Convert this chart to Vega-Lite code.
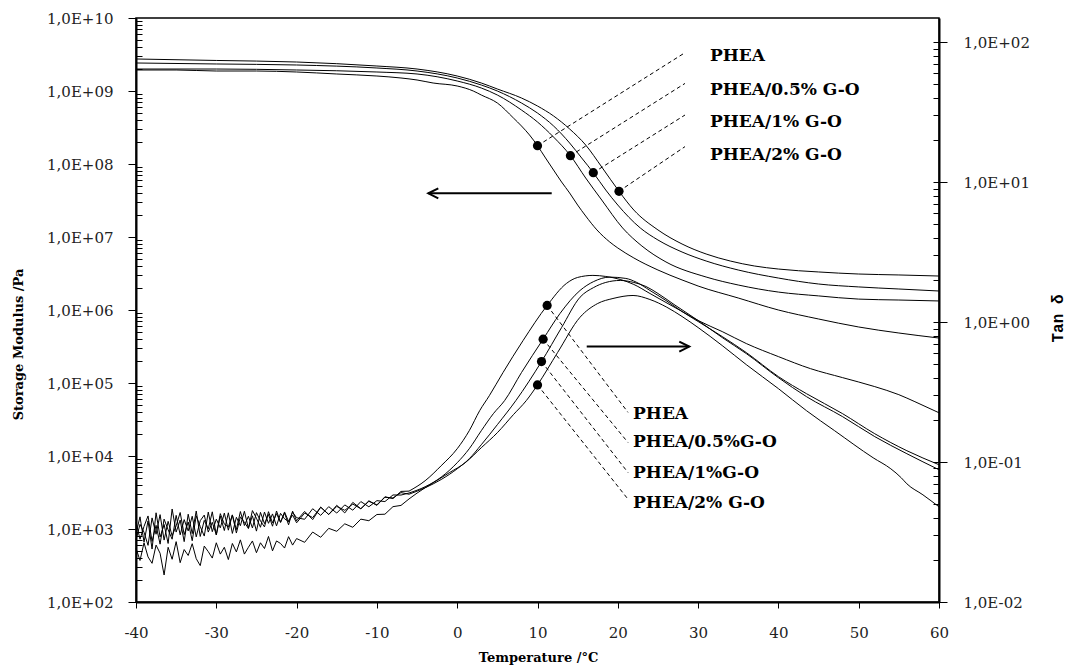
{
"$schema": "https://vega.github.io/schema/vega-lite/v6.json",
"width": 803, "height": 584,
"autosize": {"type": "none"},
"padding": {"left": 136, "top": 18, "right": 133, "bottom": 65},
"background": "white",
"config": {
 "view": {"stroke": "black", "strokeWidth": 1.5},
 "axis": {"grid": false, "ticks": true, "domainColor": "black", "domainWidth": 2, "tickColor": "black", "tickWidth": 1, "tickOpacity": 1, "labelFont": "DejaVu Serif", "labelFontSize": 15, "labelColor": "#222", "titleFont": "DejaVu Serif", "titleFontWeight": "bold", "titleFontSize": 13, "titleColor": "black", "labelOverlap": false, "labelFlush": false}
},
"datasets": {
 "modulus": [
  {"s":"A","T":-40,"v":1.94e9},{"s":"A","T":-35,"v":1.94e9},{"s":"A","T":-30,"v":1.879e9},{"s":"A","T":-25,"v":1.879e9},{"s":"A","T":-20,"v":1.821e9},{"s":"A","T":-15,"v":1.71e9},{"s":"A","T":-10,"v":1.605e9},{"s":"A","T":-7,"v":1.507e9},{"s":"A","T":-5,"v":1.415e9},{"s":"A","T":-3,"v":1.287e9},{"s":"A","T":0,"v":1.171e9},{"s":"A","T":2,"v":1.0e9},{"s":"A","T":3,"v":8.81e8},{"s":"A","T":5,"v":6.85e8},{"s":"A","T":7,"v":4.27e8},{"s":"A","T":8,"v":3.32e8},{"s":"A","T":9,"v":2.5e8},{"s":"A","T":10,"v":1.78e8},{"s":"A","T":11,"v":1.21e8},{"s":"A","T":12,"v":8.27e7},{"s":"A","T":13,"v":5.67e7},{"s":"A","T":14,"v":4.01e7},{"s":"A","T":15,"v":2.74e7},{"s":"A","T":16,"v":1.94e7},{"s":"A","T":17.4,"v":1.25e7},{"s":"A","T":19,"v":8.54e6},{"s":"A","T":20,"v":7.07e6},{"s":"A","T":22,"v":5.16e6},{"s":"A","T":25,"v":3.53e6},{"s":"A","T":28,"v":2.58e6},{"s":"A","T":30,"v":2.13e6},{"s":"A","T":35,"v":1.46e6},{"s":"A","T":40,"v":1.0e6},{"s":"A","T":45,"v":7.53e5},{"s":"A","T":50,"v":5.85e5},{"s":"A","T":55,"v":4.84e5},{"s":"A","T":60,"v":4.13e5},
  {"s":"B","T":-40,"v":2.0e9},{"s":"B","T":-30,"v":2.0e9},{"s":"B","T":-20,"v":1.94e9},{"s":"B","T":-10,"v":1.821e9},{"s":"B","T":-5,"v":1.71e9},{"s":"B","T":0,"v":1.371e9},{"s":"B","T":3,"v":1.099e9},{"s":"B","T":5,"v":8.81e8},{"s":"B","T":8,"v":5.49e8},{"s":"B","T":10,"v":3.76e8},{"s":"B","T":12,"v":2.34e8},{"s":"B","T":14.1,"v":1.30e8},{"s":"B","T":16,"v":6.43e7},{"s":"B","T":18,"v":3.21e7},{"s":"B","T":20.6,"v":1.33e7},{"s":"B","T":23,"v":7.53e6},{"s":"B","T":26,"v":4.55e6},{"s":"B","T":31,"v":2.83e6},{"s":"B","T":35,"v":2.2e6},{"s":"B","T":40,"v":1.76e6},{"s":"B","T":45,"v":1.56e6},{"s":"B","T":50,"v":1.41e6},{"s":"B","T":55,"v":1.37e6},{"s":"B","T":60,"v":1.33e6},
  {"s":"C","T":-40,"v":2.419e9},{"s":"C","T":-30,"v":2.345e9},{"s":"C","T":-20,"v":2.271e9},{"s":"C","T":-10,"v":2.066e9},{"s":"C","T":-5,"v":1.879e9},{"s":"C","T":0,"v":1.507e9},{"s":"C","T":3,"v":1.208e9},{"s":"C","T":5,"v":1.0e9},{"s":"C","T":8,"v":6.85e8},{"s":"C","T":10,"v":4.99e8},{"s":"C","T":12,"v":3.32e8},{"s":"C","T":14,"v":1.94e8},{"s":"C","T":15.5,"v":1.21e8},{"s":"C","T":16.95,"v":7.6e7},{"s":"C","T":18.5,"v":4.4e7},{"s":"C","T":20,"v":2.74e7},{"s":"C","T":22.8,"v":1.33e7},{"s":"C","T":25,"v":9.1e6},{"s":"C","T":28,"v":6.23e6},{"s":"C","T":31,"v":4.69e6},{"s":"C","T":35,"v":3.53e6},{"s":"C","T":40,"v":2.74e6},{"s":"C","T":45,"v":2.27e6},{"s":"C","T":50,"v":2.07e6},{"s":"C","T":55,"v":1.94e6},{"s":"C","T":60,"v":1.82e6},
  {"s":"D","T":-40,"v":2.745e9},{"s":"D","T":-30,"v":2.62e9},{"s":"D","T":-20,"v":2.496e9},{"s":"D","T":-10,"v":2.2e9},{"s":"D","T":-5,"v":2.0e9},{"s":"D","T":0,"v":1.605e9},{"s":"D","T":3,"v":1.287e9},{"s":"D","T":5,"v":1.065e9},{"s":"D","T":8,"v":8.02e8},{"s":"D","T":10,"v":6.23e8},{"s":"D","T":12,"v":4.55e8},{"s":"D","T":14,"v":3.02e8},{"s":"D","T":16,"v":1.82e8},{"s":"D","T":18,"v":9.1e7},{"s":"D","T":20.15,"v":4.23e7},{"s":"D","T":22,"v":2.34e7},{"s":"D","T":25,"v":1.25e7},{"s":"D","T":28,"v":8.02e6},{"s":"D","T":31,"v":5.85e6},{"s":"D","T":34,"v":4.69e6},{"s":"D","T":37,"v":4.01e6},{"s":"D","T":40,"v":3.64e6},{"s":"D","T":45,"v":3.32e6},{"s":"D","T":50,"v":3.11e6},{"s":"D","T":55,"v":3.02e6},{"s":"D","T":60,"v":2.92e6}
 ],
 "modDots": [{"T":10,"v":1.78e8},{"T":14.1,"v":1.30e8},{"T":16.95,"v":7.6e7},{"T":20.15,"v":4.23e7}],
 "modLeaders": [{"T":10,"v":1.78e8,"T2":28.37,"v2":3.35e9},{"T":14.1,"v":1.30e8,"T2":28.37,"v2":1.27e9},{"T":16.95,"v":7.6e7,"T2":28.37,"v2":4.69e8},{"T":20.15,"v":4.23e7,"T2":28.37,"v2":1.73e8}],
 "modLabels": [{"T":31.48,"v":3.01e9,"label":"PHEA"},{"T":31.48,"v":1.03e9,"label":"PHEA/0.5% G-O"},{"T":31.48,"v":3.76e8,"label":"PHEA/1% G-O"},{"T":31.48,"v":1.33e8,"label":"PHEA/2% G-O"}],
 "modArrow": [{"T":-3.6,"T2":11.77,"v":3.97e7}],
 "tand": [
  {"s":"A","T":-40,"v":0.0310},{"s":"A","T":-39.5,"v":0.0406},{"s":"A","T":-39,"v":0.0268},{"s":"A","T":-38.5,"v":0.0380},{"s":"A","T":-38,"v":0.0239},{"s":"A","T":-37.5,"v":0.0434},{"s":"A","T":-37,"v":0.0291},{"s":"A","T":-36.5,"v":0.0358},{"s":"A","T":-36,"v":0.0262},{"s":"A","T":-35.5,"v":0.0462},{"s":"A","T":-35,"v":0.0316},{"s":"A","T":-34.5,"v":0.0385},{"s":"A","T":-34,"v":0.0270},{"s":"A","T":-33.5,"v":0.0424},{"s":"A","T":-33,"v":0.0308},{"s":"A","T":-32.5,"v":0.0447},{"s":"A","T":-32,"v":0.0294},{"s":"A","T":-31.5,"v":0.0383},{"s":"A","T":-31,"v":0.0333},{"s":"A","T":-30.5,"v":0.0441},{"s":"A","T":-30,"v":0.0302},{"s":"A","T":-29.5,"v":0.0411},{"s":"A","T":-29,"v":0.0324},{"s":"A","T":-28.5,"v":0.0434},{"s":"A","T":-28,"v":0.0309},{"s":"A","T":-27.5,"v":0.0403},{"s":"A","T":-27,"v":0.0351},{"s":"A","T":-26.5,"v":0.0445},{"s":"A","T":-26,"v":0.0336},{"s":"A","T":-25.5,"v":0.0413},{"s":"A","T":-25,"v":0.0321},{"s":"A","T":-24.5,"v":0.0437},{"s":"A","T":-24,"v":0.0363},{"s":"A","T":-23.5,"v":0.0422},{"s":"A","T":-23,"v":0.0348},{"s":"A","T":-22.5,"v":0.0447},{"s":"A","T":-22,"v":0.0371},{"s":"A","T":-21.5,"v":0.0432},{"s":"A","T":-21,"v":0.0356},{"s":"A","T":-20.5,"v":0.0446},{"s":"A","T":-20,"v":0.0380},{"s":"A","T":-19,"v":0.0444},{"s":"A","T":-18,"v":0.0388},{"s":"A","T":-17,"v":0.0476},{"s":"A","T":-16,"v":0.0422},{"s":"A","T":-15,"v":0.0491},{"s":"A","T":-14,"v":0.0433},{"s":"A","T":-13,"v":0.0515},{"s":"A","T":-12,"v":0.0464},{"s":"A","T":-11,"v":0.0529},{"s":"A","T":-10,"v":0.0490},{"s":"A","T":-9,"v":0.0565},{"s":"A","T":-8,"v":0.0548},{"s":"A","T":-7,"v":0.0617},{"s":"A","T":-6,"v":0.0620},{"s":"A","T":-4,"v":0.0735},{"s":"A","T":-2,"v":0.0941},{"s":"A","T":0,"v":0.1245},{"s":"A","T":1.5,"v":0.1675},{"s":"A","T":2.8,"v":0.233},{"s":"A","T":4,"v":0.298},{"s":"A","T":5.7,"v":0.4357},{"s":"A","T":8.2,"v":0.738},{"s":"A","T":11.2,"v":1.315},{"s":"A","T":13.6,"v":1.889},{"s":"A","T":15,"v":2.086},{"s":"A","T":16.9,"v":2.157},{"s":"A","T":18.5,"v":2.12},{"s":"A","T":20.3,"v":2.018},{"s":"A","T":22,"v":1.858},{"s":"A","T":24,"v":1.602},{"s":"A","T":26,"v":1.381},{"s":"A","T":28,"v":1.191},{"s":"A","T":30,"v":1.027},{"s":"A","T":33,"v":0.856},{"s":"A","T":36,"v":0.703},{"s":"A","T":40,"v":0.567},{"s":"A","T":44,"v":0.465},{"s":"A","T":48,"v":0.401},{"s":"A","T":52,"v":0.346},{"s":"A","T":55,"v":0.303},{"s":"A","T":57,"v":0.270},{"s":"A","T":60,"v":0.225},
  {"s":"B","T":-40,"v":0.0279},{"s":"B","T":-39.5,"v":0.0359},{"s":"B","T":-39,"v":0.0315},{"s":"B","T":-38.5,"v":0.0254},{"s":"B","T":-38,"v":0.0399},{"s":"B","T":-37.5,"v":0.0305},{"s":"B","T":-37,"v":0.0421},{"s":"B","T":-36.5,"v":0.0277},{"s":"B","T":-36,"v":0.0377},{"s":"B","T":-35.5,"v":0.0297},{"s":"B","T":-35,"v":0.0350},{"s":"B","T":-34.5,"v":0.0436},{"s":"B","T":-34,"v":0.0303},{"s":"B","T":-33.5,"v":0.0373},{"s":"B","T":-33,"v":0.0274},{"s":"B","T":-32.5,"v":0.0413},{"s":"B","T":-32,"v":0.0346},{"s":"B","T":-31.5,"v":0.0296},{"s":"B","T":-31,"v":0.0439},{"s":"B","T":-30.5,"v":0.0318},{"s":"B","T":-30,"v":0.0391},{"s":"B","T":-29.5,"v":0.0339},{"s":"B","T":-29,"v":0.0432},{"s":"B","T":-28.5,"v":0.0326},{"s":"B","T":-28,"v":0.0419},{"s":"B","T":-27.5,"v":0.0311},{"s":"B","T":-27,"v":0.0406},{"s":"B","T":-26.5,"v":0.0371},{"s":"B","T":-26,"v":0.0336},{"s":"B","T":-25.5,"v":0.0450},{"s":"B","T":-25,"v":0.0397},{"s":"B","T":-24.5,"v":0.0342},{"s":"B","T":-24,"v":0.0439},{"s":"B","T":-23.5,"v":0.0365},{"s":"B","T":-23,"v":0.0426},{"s":"B","T":-22.5,"v":0.0350},{"s":"B","T":-22,"v":0.0430},{"s":"B","T":-21.5,"v":0.0393},{"s":"B","T":-21,"v":0.0376},{"s":"B","T":-20.5,"v":0.0438},{"s":"B","T":-20,"v":0.0400},{"s":"B","T":-19,"v":0.0390},{"s":"B","T":-18,"v":0.0464},{"s":"B","T":-17,"v":0.0416},{"s":"B","T":-16,"v":0.0480},{"s":"B","T":-15,"v":0.0432},{"s":"B","T":-14,"v":0.0494},{"s":"B","T":-13,"v":0.0453},{"s":"B","T":-12,"v":0.0522},{"s":"B","T":-11,"v":0.0479},{"s":"B","T":-10,"v":0.0530},{"s":"B","T":-9,"v":0.0522},{"s":"B","T":-8,"v":0.0582},{"s":"B","T":-7,"v":0.0581},{"s":"B","T":-6,"v":0.0601},{"s":"B","T":-4,"v":0.0666},{"s":"B","T":-2,"v":0.078},{"s":"B","T":0,"v":0.0989},{"s":"B","T":1.5,"v":0.1245},{"s":"B","T":3,"v":0.1675},{"s":"B","T":4.5,"v":0.2216},{"s":"B","T":5.9,"v":0.2747},{"s":"B","T":8,"v":0.4357},{"s":"B","T":10.7,"v":0.755},{"s":"B","T":12.8,"v":1.152},{"s":"B","T":15.3,"v":1.684},{"s":"B","T":17,"v":1.95},{"s":"B","T":19,"v":2.097},{"s":"B","T":21,"v":2.052},{"s":"B","T":22.3,"v":1.93},{"s":"B","T":24,"v":1.684},{"s":"B","T":26,"v":1.427},{"s":"B","T":28,"v":1.191},{"s":"B","T":30,"v":1.01},{"s":"B","T":33,"v":0.789},{"s":"B","T":36,"v":0.606},{"s":"B","T":40,"v":0.408},{"s":"B","T":43.5,"v":0.308},{"s":"B","T":48,"v":0.2216},{"s":"B","T":52,"v":0.1594},{"s":"B","T":56,"v":0.1205},{"s":"B","T":60,"v":0.0957},
  {"s":"C","T":-40,"v":0.0372},{"s":"C","T":-39.5,"v":0.0281},{"s":"C","T":-39,"v":0.0347},{"s":"C","T":-38.5,"v":0.0412},{"s":"C","T":-38,"v":0.0271},{"s":"C","T":-37.5,"v":0.0353},{"s":"C","T":-37,"v":0.0259},{"s":"C","T":-36.5,"v":0.0391},{"s":"C","T":-36,"v":0.0328},{"s":"C","T":-35.5,"v":0.0281},{"s":"C","T":-35,"v":0.0416},{"s":"C","T":-34.5,"v":0.0302},{"s":"C","T":-34,"v":0.0388},{"s":"C","T":-33.5,"v":0.0322},{"s":"C","T":-33,"v":0.0410},{"s":"C","T":-32.5,"v":0.0292},{"s":"C","T":-32,"v":0.0381},{"s":"C","T":-31.5,"v":0.0418},{"s":"C","T":-31,"v":0.0316},{"s":"C","T":-30.5,"v":0.0371},{"s":"C","T":-30,"v":0.0302},{"s":"C","T":-29.5,"v":0.0428},{"s":"C","T":-29,"v":0.0360},{"s":"C","T":-28.5,"v":0.0344},{"s":"C","T":-28,"v":0.0419},{"s":"C","T":-27.5,"v":0.0329},{"s":"C","T":-27,"v":0.0443},{"s":"C","T":-26.5,"v":0.0352},{"s":"C","T":-26,"v":0.0410},{"s":"C","T":-25.5,"v":0.0338},{"s":"C","T":-25,"v":0.0435},{"s":"C","T":-24.5,"v":0.0380},{"s":"C","T":-24,"v":0.0344},{"s":"C","T":-23.5,"v":0.0442},{"s":"C","T":-23,"v":0.0368},{"s":"C","T":-22.5,"v":0.0428},{"s":"C","T":-22,"v":0.0371},{"s":"C","T":-21.5,"v":0.0440},{"s":"C","T":-21,"v":0.0376},{"s":"C","T":-20.5,"v":0.0418},{"s":"C","T":-20,"v":0.0368},{"s":"C","T":-19,"v":0.0432},{"s":"C","T":-18,"v":0.0401},{"s":"C","T":-17,"v":0.0476},{"s":"C","T":-16,"v":0.0422},{"s":"C","T":-15,"v":0.0482},{"s":"C","T":-14,"v":0.0452},{"s":"C","T":-13,"v":0.0501},{"s":"C","T":-12,"v":0.0464},{"s":"C","T":-11,"v":0.0524},{"s":"C","T":-10,"v":0.0495},{"s":"C","T":-9,"v":0.0560},{"s":"C","T":-8,"v":0.0554},{"s":"C","T":-7,"v":0.0605},{"s":"C","T":-6,"v":0.0589},{"s":"C","T":-4,"v":0.0655},{"s":"C","T":-2,"v":0.075},{"s":"C","T":0,"v":0.0895},{"s":"C","T":1.5,"v":0.1056},{"s":"C","T":3,"v":0.133},{"s":"C","T":5,"v":0.185},{"s":"C","T":7.3,"v":0.2747},{"s":"C","T":10.5,"v":0.5224},{"s":"C","T":13,"v":0.9147},{"s":"C","T":15.3,"v":1.507},{"s":"C","T":17,"v":1.768},{"s":"C","T":18.5,"v":1.921},{"s":"C","T":20.3,"v":1.985},{"s":"C","T":22,"v":1.921},{"s":"C","T":23.5,"v":1.798},{"s":"C","T":25,"v":1.602},{"s":"C","T":27,"v":1.337},{"s":"C","T":30,"v":1.027},{"s":"C","T":33,"v":0.776},{"s":"C","T":36,"v":0.596},{"s":"C","T":40,"v":0.401},{"s":"C","T":43.5,"v":0.2934},{"s":"C","T":48,"v":0.211},{"s":"C","T":52,"v":0.152},{"s":"C","T":56,"v":0.1147},{"s":"C","T":60,"v":0.0881},
  {"s":"D","T":-40,"v":0.0242},{"s":"D","T":-39.5,"v":0.0198},{"s":"D","T":-39,"v":0.0265},{"s":"D","T":-38.5,"v":0.0210},{"s":"D","T":-38,"v":0.0189},{"s":"D","T":-37.5,"v":0.0255},{"s":"D","T":-37,"v":0.0223},{"s":"D","T":-36.5,"v":0.0156},{"s":"D","T":-36,"v":0.0246},{"s":"D","T":-35.5,"v":0.0202},{"s":"D","T":-35,"v":0.0270},{"s":"D","T":-34.5,"v":0.0191},{"s":"D","T":-34,"v":0.0237},{"s":"D","T":-33.5,"v":0.0215},{"s":"D","T":-33,"v":0.0261},{"s":"D","T":-32.5,"v":0.0204},{"s":"D","T":-32,"v":0.0182},{"s":"D","T":-31.5,"v":0.0251},{"s":"D","T":-31,"v":0.0229},{"s":"D","T":-30.5,"v":0.0206},{"s":"D","T":-30,"v":0.0265},{"s":"D","T":-29.5,"v":0.0220},{"s":"D","T":-29,"v":0.0246},{"s":"D","T":-28.5,"v":0.0201},{"s":"D","T":-28,"v":0.0262},{"s":"D","T":-27.5,"v":0.0228},{"s":"D","T":-27,"v":0.0278},{"s":"D","T":-26.5,"v":0.0220},{"s":"D","T":-26,"v":0.0246},{"s":"D","T":-25.5,"v":0.0273},{"s":"D","T":-25,"v":0.0225},{"s":"D","T":-24.5,"v":0.0265},{"s":"D","T":-24,"v":0.0241},{"s":"D","T":-23.5,"v":0.0294},{"s":"D","T":-23,"v":0.0232},{"s":"D","T":-22.5,"v":0.0273},{"s":"D","T":-22,"v":0.0262},{"s":"D","T":-21.5,"v":0.0243},{"s":"D","T":-21,"v":0.0293},{"s":"D","T":-20.5,"v":0.0255},{"s":"D","T":-20,"v":0.0284},{"s":"D","T":-19,"v":0.0267},{"s":"D","T":-18,"v":0.0316},{"s":"D","T":-17,"v":0.0290},{"s":"D","T":-16,"v":0.0336},{"s":"D","T":-15,"v":0.0320},{"s":"D","T":-14,"v":0.0362},{"s":"D","T":-13,"v":0.0342},{"s":"D","T":-12,"v":0.0391},{"s":"D","T":-11,"v":0.0381},{"s":"D","T":-10,"v":0.0422},{"s":"D","T":-9,"v":0.0424},{"s":"D","T":-8,"v":0.0480},{"s":"D","T":-7,"v":0.0490},{"s":"D","T":-6,"v":0.0545},{"s":"D","T":-5,"v":0.0600},{"s":"D","T":-3,"v":0.0711},{"s":"D","T":-1,"v":0.0838},{"s":"D","T":1,"v":0.0989},{"s":"D","T":3,"v":0.1266},{"s":"D","T":5,"v":0.1621},{"s":"D","T":7,"v":0.2182},{"s":"D","T":8.6,"v":0.2747},{"s":"D","T":10,"v":0.3557},{"s":"D","T":12.5,"v":0.606},{"s":"D","T":15.3,"v":1.084},{"s":"D","T":17.5,"v":1.359},{"s":"D","T":19.4,"v":1.475},{"s":"D","T":21.9,"v":1.55},{"s":"D","T":24,"v":1.451},{"s":"D","T":26.1,"v":1.278},{"s":"D","T":28,"v":1.097},{"s":"D","T":30,"v":0.9147},{"s":"D","T":33,"v":0.68},{"s":"D","T":36,"v":0.497},{"s":"D","T":40,"v":0.3347},{"s":"D","T":43.5,"v":0.2328},{"s":"D","T":47,"v":0.1675},{"s":"D","T":51.8,"v":0.1073},{"s":"D","T":54,"v":0.0895},{"s":"D","T":55.3,"v":0.0772},{"s":"D","T":56,"v":0.0699},{"s":"D","T":58,"v":0.0583},{"s":"D","T":60,"v":0.0479}
 ],
 "tanDots": [{"T":11.2,"v":1.315},{"T":10.7,"v":0.755},{"T":10.5,"v":0.5224},{"T":10.0,"v":0.3557}],
 "tanLeaders": [{"T":11.2,"v":1.315,"T2":21.27,"v2":0.2265},{"T":10.7,"v":0.755,"T2":21.27,"v2":0.138},{"T":10.5,"v":0.5224,"T2":21.27,"v2":0.0842},{"T":10.0,"v":0.3557,"T2":21.27,"v2":0.0543}],
 "tanLabels": [{"T":21.9,"v":0.2207,"label":"PHEA"},{"T":21.9,"v":0.138,"label":"PHEA/0.5%G-O"},{"T":21.9,"v":0.0842,"label":"PHEA/1%G-O"},{"T":21.9,"v":0.0514,"label":"PHEA/2% G-O"}],
 "tanArrow": [{"T":28.9,"T2":16.13,"v":0.669}]
},
"encoding": {
 "x": {"field": "T", "type": "quantitative",
  "scale": {"domain": [-40, 60], "nice": false, "zero": false},
  "axis": {"values": [-40,-30,-20,-10,0,10,20,30,40,50,60], "ticks": true, "tickColor": "black", "tickSize": 6, "tickWidth": 1, "labelPadding": 17, "labelExpr": "'' + datum.value", "title": "Temperature /°C", "titleX": 402, "titleY": 55, "titleAlign": "center", "titleBaseline": "middle"}}
},
"layer": [
 {
  "layer": [
   {
    "encoding": {"y": {"field": "v", "type": "quantitative",
     "scale": {"type": "log", "domain": [100, 1e10], "nice": false},
     "axis": {"orient": "left",
      "values": [100,1000,10000,1e5,1e6,1e7,1e8,1e9,1e10],
      "ticks": true, "tickColor": "black", "tickSize": 8, "tickWidth": 1, "labelPadding": 15,
      "labelExpr": "'1,0E+' + (round(log(datum.value)/LN10) < 10 ? '0' : '') + round(log(datum.value)/LN10)",
      "title": "Storage Modulus /Pa", "titleAngle": 270, "titleX": -118, "titleY": 326, "titleAlign": "center", "titleBaseline": "middle"}}},
    "layer": [
     {"data": {"name": "modulus"}, "mark": {"type": "line", "color": "black", "strokeWidth": 1, "interpolate": "monotone"}, "encoding": {"detail": {"field": "s"}}},
     {"data": {"name": "modLeaders"}, "mark": {"type": "rule", "color": "black", "strokeWidth": 1, "strokeDash": [4, 3]}, "encoding": {"x2": {"field": "T2"}, "y2": {"field": "v2"}}},
     {"data": {"name": "modLabels"}, "mark": {"type": "text", "align": "left", "baseline": "middle", "font": "DejaVu Serif", "fontWeight": "bold", "fontSize": 17, "color": "black"}, "encoding": {"text": {"field": "label"}}},
     {"data": {"name": "modArrow"}, "mark": {"type": "rule", "color": "black", "strokeWidth": 2}, "encoding": {"x2": {"field": "T2"}}},
     {"data": {"name": "modArrow"}, "mark": {"type": "point", "shape": "M1,-0.5L0,0L1,0.5", "size": 400, "filled": false, "strokeWidth": 2, "color": "black", "opacity": 1}}
    ]
   },
   {"data": {"name": "modDots"}, "mark": {"type": "point", "filled": true, "color": "black", "size": 85, "opacity": 1},
    "encoding": {"y": {"field": "v", "type": "quantitative",
     "scale": {"type": "log", "domain": [100, 1e10], "nice": false},
     "axis": {"orient": "left", "offset": -6, "ticks": true, "tickColor": "black", "tickSize": 6, "tickWidth": 1, "labels": false, "domain": false, "title": null,
      "values": [200,300,400,500,600,700,800,900,2000,3000,4000,5000,6000,7000,8000,9000,20000,30000,40000,50000,60000,70000,80000,90000,2e5,3e5,4e5,5e5,6e5,7e5,8e5,9e5,2e6,3e6,4e6,5e6,6e6,7e6,8e6,9e6,2e7,3e7,4e7,5e7,6e7,7e7,8e7,9e7,2e8,3e8,4e8,5e8,6e8,7e8,8e8,9e8,2e9,3e9,4e9,5e9,6e9,7e9,8e9,9e9]}}}}
  ],
  "resolve": {"axis": {"y": "independent"}}
 },
 {
  "layer": [
   {
    "encoding": {"y": {"field": "v", "type": "quantitative",
     "scale": {"type": "log", "domain": [0.01, 149], "nice": false},
     "axis": {"orient": "right",
      "values": [0.01,0.1,1,10,100],
      "ticks": true, "tickColor": "black", "tickSize": 8, "tickWidth": 1, "labelPadding": 16,
      "labelExpr": "'1,0E' + (round(log(datum.value)/LN10) < 0 ? '-' : '+') + '0' + abs(round(log(datum.value)/LN10))",
      "title": "Tan δ", "titleFont": "Liberation Mono", "titleFontSize": 16, "titleAngle": 270, "titleX": 118, "titleY": 300, "titleAlign": "center", "titleBaseline": "middle"}}},
    "layer": [
     {"data": {"name": "tand"}, "transform": [{"filter": "datum.T <= -6"}], "mark": {"type": "line", "color": "black", "strokeWidth": 1, "interpolate": "linear"}, "encoding": {"detail": {"field": "s"}}},
     {"data": {"name": "tand"}, "transform": [{"filter": "datum.T >= -6"}], "mark": {"type": "line", "color": "black", "strokeWidth": 1, "interpolate": "monotone"}, "encoding": {"detail": {"field": "s"}}},
     {"data": {"name": "tanLeaders"}, "mark": {"type": "rule", "color": "black", "strokeWidth": 1, "strokeDash": [4, 3]}, "encoding": {"x2": {"field": "T2"}, "y2": {"field": "v2"}}},
     {"data": {"name": "tanLabels"}, "mark": {"type": "text", "align": "left", "baseline": "middle", "font": "DejaVu Serif", "fontWeight": "bold", "fontSize": 17, "color": "black"}, "encoding": {"text": {"field": "label"}}},
     {"data": {"name": "tanArrow"}, "mark": {"type": "rule", "color": "black", "strokeWidth": 2}, "encoding": {"x2": {"field": "T2"}}},
     {"data": {"name": "tanArrow"}, "mark": {"type": "point", "shape": "M-1,-0.5L0,0L-1,0.5", "size": 400, "filled": false, "strokeWidth": 2, "color": "black", "opacity": 1}}
    ]
   },
   {"data": {"name": "tanDots"}, "mark": {"type": "point", "filled": true, "color": "black", "size": 85, "opacity": 1},
    "encoding": {"y": {"field": "v", "type": "quantitative",
     "scale": {"type": "log", "domain": [0.01, 149], "nice": false},
     "axis": {"orient": "right", "offset": -6, "ticks": true, "tickColor": "black", "tickSize": 6, "tickWidth": 1, "labels": false, "domain": false, "title": null,
      "values": [0.01,0.02,0.03,0.04,0.05,0.06,0.07,0.08,0.09,0.1,0.2,0.3,0.4,0.5,0.6,0.7,0.8,0.9,1,2,3,4,5,6,7,8,9,10,20,30,40,50,60,70,80,90,100]}}}}
  ],
  "resolve": {"axis": {"y": "independent"}}
 }
],
"resolve": {"scale": {"y": "independent"}}
}
